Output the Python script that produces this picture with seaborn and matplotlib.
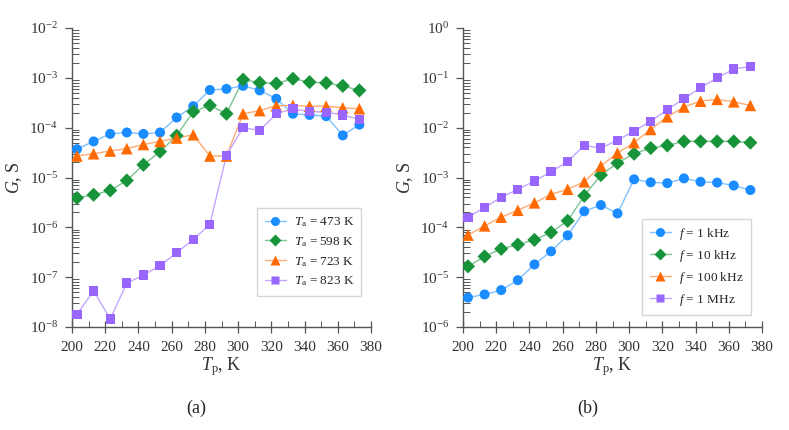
import numpy as np
import seaborn as sns
import matplotlib.pyplot as plt
from matplotlib.lines import Line2D
from matplotlib.ticker import LogLocator, MultipleLocator, NullFormatter

sns.set_style("white")
plt.rcParams['font.family'] = ['Liberation Serif', 'DejaVu Serif']
plt.rcParams['mathtext.fontset'] = 'custom'
plt.rcParams['mathtext.rm'] = 'Liberation Serif'
plt.rcParams['mathtext.it'] = 'Liberation Serif:italic'
plt.rcParams['mathtext.bf'] = 'Liberation Serif:bold'

tp = [203, 213, 223, 233, 243, 253, 263, 273, 283, 293, 303, 313, 323, 333, 343, 353, 363, 373]

# (a) different annealing temperatures, f = 1 kHz
g_473 = [3.7e-5, 5.3e-5, 7.5e-5, 8.0e-5, 7.5e-5, 8.0e-5, 1.6e-4, 2.7e-4, 5.7e-4, 6.0e-4,
         6.9e-4, 5.6e-4, 3.8e-4, 1.9e-4, 1.8e-4, 1.7e-4, 7.0e-5, 1.15e-4]
g_598 = [3.9e-6, 4.5e-6, 5.5e-6, 8.7e-6, 1.8e-5, 3.3e-5, 6.9e-5, 2.1e-4, 2.8e-4, 1.9e-4,
         9.2e-4, 8.0e-4, 7.7e-4, 9.6e-4, 8.2e-4, 7.9e-4, 6.9e-4, 5.6e-4]
g_723 = [2.7e-5, 3.0e-5, 3.4e-5, 3.8e-5, 4.6e-5, 5.3e-5, 6.2e-5, 7.2e-5, 2.7e-5, 2.7e-5,
         1.9e-4, 2.2e-4, 2.75e-4, 2.8e-4, 2.7e-4, 2.7e-4, 2.5e-4, 2.4e-4]
g_823 = [1.8e-8, 5.3e-8, 1.45e-8, 7.6e-8, 1.1e-7, 1.7e-7, 3.1e-7, 5.7e-7, 1.15e-6, 2.8e-5,
         1.0e-4, 8.8e-5, 1.9e-4, 2.4e-4, 2.1e-4, 2.05e-4, 1.8e-4, 1.45e-4]

# (b) different frequencies, Ta = 598 K
g_1k = g_598
g_10k = [1.65e-5, 2.6e-5, 3.7e-5, 4.5e-5, 5.6e-5, 7.9e-5, 1.35e-4, 4.3e-4, 1.12e-3, 1.95e-3,
         3.0e-3, 3.9e-3, 4.4e-3, 5.3e-3, 5.3e-3, 5.3e-3, 5.3e-3, 5.0e-3]
g_100k = [7.0e-5, 1.07e-4, 1.6e-4, 2.2e-4, 3.1e-4, 4.6e-4, 5.8e-4, 8.2e-4, 1.7e-3, 3.1e-3,
          5.0e-3, 9.2e-3, 1.65e-2, 2.6e-2, 3.4e-2, 3.7e-2, 3.3e-2, 2.8e-2]
g_1M = [1.6e-4, 2.5e-4, 4.0e-4, 5.8e-4, 8.5e-4, 1.3e-3, 2.1e-3, 4.4e-3, 3.9e-3, 5.6e-3,
        8.5e-3, 1.35e-2, 2.3e-2, 3.8e-2, 6.3e-2, 0.1, 0.15, 0.17]

labels_a = ['$T_\\mathrm{a}$ = 473 K', '$T_\\mathrm{a}$ = 598 K',
            '$T_\\mathrm{a}$ = 723 K', '$T_\\mathrm{a}$ = 823 K']
labels_b = ['$f$ = 1 kHz', '$f$ = 10 kHz', '$f$ = 100 kHz', '$f$ = 1 MHz']

colors = ['#1a8cff', '#17943a', '#ff6a00', '#9966ff']
line_colors = ['#7fc1ff', '#7cc493', '#ffab73', '#c2a6ff']
markers = ['o', 'D', '^', 's']
sizes = [52, 52, 70, 44]

fig = plt.figure(figsize=(7.89, 4.30), dpi=100)
ax_a = fig.add_axes([72 / 789, 103 / 430, 299 / 789, 299 / 430])
ax_b = fig.add_axes([463 / 789, 103 / 430, 299 / 789, 299 / 430])


def draw(ax, series, labels, ylim, legend_anchor):
    handles = []
    for k, ys in enumerate(series):
        sns.lineplot(x=tp, y=ys, ax=ax, color=line_colors[k], linewidth=1.0, zorder=2)
        sns.scatterplot(x=tp, y=ys, ax=ax, color=colors[k], marker=markers[k],
                        s=sizes[k], edgecolor='none', zorder=3)
        handles.append(Line2D([], [], color=line_colors[k], lw=1.0, marker=markers[k],
                              markerfacecolor=colors[k], markeredgecolor='none',
                              markersize=np.sqrt(sizes[k]) * 0.9))
    ax.set_yscale('log')
    ax.set_xlim(200, 380)
    ax.set_ylim(*ylim)
    ax.xaxis.set_major_locator(MultipleLocator(20))
    ax.xaxis.set_minor_locator(MultipleLocator(10))
    ax.yaxis.set_major_locator(LogLocator(base=10, numticks=20))
    ax.yaxis.set_minor_locator(LogLocator(base=10, subs=np.arange(2, 10), numticks=20))
    ax.yaxis.set_minor_formatter(NullFormatter())
    for s in ['top', 'right']:
        ax.spines[s].set_visible(False)
    for s in ['left', 'bottom']:
        ax.spines[s].set_color('#555555')
        ax.spines[s].set_linewidth(1.0)
    ax.tick_params(which='both', bottom=True, left=True, top=False, right=False)
    ax.tick_params(which='major', direction='inout', length=8, width=0.9,
                   color='#555555', labelsize=11, labelcolor='#333333', pad=6)
    ax.tick_params(which='minor', direction='in', length=4, width=0.7, color='#555555')
    ax.tick_params(axis='y', which='major', direction='out', length=5, pad=5)
    ax.tick_params(axis='y', which='minor', direction='in', length=5)
    ax.set_xlabel('$T_\\mathrm{p}$, K', fontsize=13, color='#333333', labelpad=1)
    ax.set_ylabel('$G$, S', fontsize=13, color='#333333', labelpad=4)
    leg = ax.legend(handles, labels, loc='lower left', bbox_to_anchor=legend_anchor,
                    fontsize=9.5, frameon=True, fancybox=False, edgecolor='#cccccc',
                    handlelength=1.6, borderpad=0.55, labelspacing=0.45, handletextpad=0.6,
                    borderaxespad=0)
    leg.get_frame().set_linewidth(1.0)


draw(ax_a, [g_473, g_598, g_723, g_823], labels_a, (1e-8, 1e-2), (0.62, 0.105))
draw(ax_b, [g_1k, g_10k, g_100k, g_1M], labels_b, (1e-6, 1e0), (0.60, 0.04))

fig.text(196 / 789, 1 - 408 / 430, '(a)', ha='center', va='center', fontsize=13)
fig.text(588 / 789, 1 - 408 / 430, '(b)', ha='center', va='center', fontsize=13)

fig.savefig('out.png', dpi=100)
